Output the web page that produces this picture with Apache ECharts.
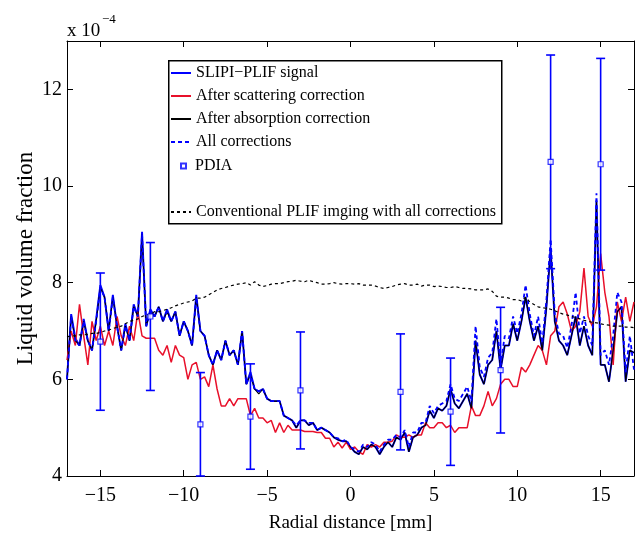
<!DOCTYPE html>
<html>
<head>
<meta charset="utf-8">
<script src="https://cdn.jsdelivr.net/npm/echarts@6/dist/echarts.min.js"></script>
<style>
  html, body { margin: 0; padding: 0; background: #fff; }
  #chart { width: 638px; height: 535px; }
</style>
</head>
<body>
<div id="chart"></div>
<script>
// radial positions [mm], shared by all profile lines
var radial = [
  -17, -16.75, -16.5, -16.25, -16, -15.75, -15.5, -15.25, -15, -14.75, -14.5, -14.25, -14, -13.75, -13.5, -13.25,
  -13, -12.75, -12.5, -12.25, -12, -11.75, -11.5, -11.25, -11, -10.75, -10.5, -10.25, -10, -9.75, -9.5, -9.25,
  -9, -8.75, -8.5, -8.25, -8, -7.75, -7.5, -7.25, -7, -6.75, -6.5, -6.25, -6, -5.75, -5.5, -5.25,
  -5, -4.75, -4.5, -4.25, -4, -3.75, -3.5, -3.25, -3, -2.75, -2.5, -2.25, -2, -1.75, -1.5, -1.25,
  -1, -0.75, -0.5, -0.25, 0, 0.25, 0.5, 0.75, 1, 1.25, 1.5, 1.75, 2, 2.25, 2.5, 2.75,
  3, 3.25, 3.5, 3.75, 4, 4.25, 4.5, 4.75, 5, 5.25, 5.5, 5.75, 6, 6.25, 6.5, 6.75,
  7, 7.25, 7.5, 7.75, 8, 8.25, 8.5, 8.75, 9, 9.25, 9.5, 9.75, 10, 10.25, 10.5, 10.75,
  11, 11.25, 11.5, 11.75, 12, 12.25, 12.5, 12.75, 13, 13.25, 13.5, 13.75, 14, 14.25, 14.5, 14.75,
  15, 15.25, 15.5, 15.75, 16, 16.25, 16.5, 16.75, 17
];

// liquid volume fraction, x 10^-4
var slipiSignal = [
  6.0, 7.35, 6.85, 6.7, 7.25, 6.8, 6.6, 7.25, 7.95, 7.7, 7.0, 7.75, 7.1, 6.6, 7.15, 6.8,
  7.55, 7.3, 9.05, 7.1, 7.45, 7.3, 7.5, 7.2, 7.45, 7.2, 7.4, 6.9, 7.2, 7.0, 6.7, 7.75,
  7.0, 6.9, 6.5, 6.3, 6.6, 6.4, 6.8, 6.5, 6.6, 6.3, 7.0, 5.9, 6.15, 5.8, 5.75, 5.8,
  5.6, 5.55, 5.55, 5.55, 5.25, 5.2, 5.15, 5.0, 5.15, 5.15, 5.05, 5.1, 4.95, 5.0, 4.95, 4.9,
  4.8, 4.75, 4.72, 4.72, 4.6, 4.5, 4.45, 4.6, 4.55, 4.65, 4.6, 4.45, 4.6, 4.7, 4.6, 4.8,
  4.75, 4.9, 4.5, 4.8, 4.85, 5.0, 5.05, 5.35, 5.2, 5.4, 5.35, 5.45, 5.8, 5.5, 5.4, 5.55,
  5.7, 5.4, 6.8, 6.1, 5.9, 6.3, 6.4, 7.0, 6.2, 6.7, 6.7, 7.15, 6.8, 7.2, 7.7, 7.2,
  6.8, 7.1, 6.6, 7.5, 8.7, 7.2, 6.8, 6.7, 6.5, 6.9, 7.3, 6.7, 7.1, 6.7, 6.5, 9.7,
  6.3, 6.3, 5.95, 6.6, 7.4, 7.5, 5.95, 6.6, 6.55
];
var scatterCorr = [
  6.4, 7.0, 6.7, 7.55, 6.9, 6.3, 7.2, 6.8, 7.1, 6.7, 7.0, 6.7, 7.3, 6.9, 6.7, 7.1,
  6.8, 7.4, 6.9, 6.85, 6.85, 6.85, 6.6, 6.5, 6.7, 6.35, 6.7, 6.5, 6.45, 6.0, 6.3, 6.35,
  6.0, 6.05, 5.85, 6.3, 5.8, 5.45, 5.45, 5.6, 5.45, 5.6, 5.6, 5.6, 5.25, 5.4, 5.2, 5.2,
  5.1, 5.15, 4.9, 5.1, 4.9, 5.05, 4.95, 4.95, 4.95, 4.92, 4.92, 4.92, 4.9, 4.9, 4.78, 4.78,
  4.6, 4.7, 4.58, 4.7, 4.55, 4.6, 4.5, 4.45, 4.65, 4.6, 4.65, 4.6, 4.7, 4.7, 4.72, 4.85,
  4.8, 4.8, 4.85, 4.8, 4.85, 4.85, 5.1, 5.0, 5.0, 5.1, 5.1, 5.0, 5.05, 4.9, 5.0, 5.0,
  5.0, 5.45, 5.25, 5.25, 5.45, 5.75, 5.45, 5.6, 5.9, 6.0, 6.0, 5.85, 5.85, 6.25, 6.15, 6.3,
  6.5, 6.7, 6.6, 6.3, 6.9, 7.0, 7.5, 7.6, 7.35, 7.0, 7.1, 7.4, 8.3, 7.3, 7.1, 7.5,
  8.6, 7.8, 7.3, 6.3, 7.6, 7.2, 7.7, 7.2, 7.6
];
var absorpCorr = [
  6.0, 7.3, 6.8, 6.7, 7.2, 6.8, 6.6, 7.2, 7.9, 7.7, 7.0, 7.7, 7.1, 6.6, 7.1, 6.8,
  7.5, 7.3, 9.0, 7.1, 7.4, 7.3, 7.5, 7.2, 7.4, 7.2, 7.4, 6.9, 7.2, 7.0, 6.7, 7.7,
  7.0, 6.9, 6.5, 6.3, 6.6, 6.4, 6.8, 6.5, 6.6, 6.3, 7.0, 5.9, 6.1, 5.8, 5.7, 5.8,
  5.6, 5.55, 5.55, 5.55, 5.25, 5.2, 5.15, 5.0, 5.15, 5.15, 5.05, 5.1, 4.95, 5.0, 4.95, 4.9,
  4.8, 4.75, 4.72, 4.72, 4.6, 4.5, 4.45, 4.6, 4.55, 4.65, 4.6, 4.45, 4.6, 4.7, 4.6, 4.8,
  4.75, 4.9, 4.5, 4.8, 4.85, 5.0, 5.05, 5.35, 5.2, 5.4, 5.35, 5.45, 5.8, 5.5, 5.4, 5.55,
  5.7, 5.4, 6.8, 6.1, 5.9, 6.3, 6.4, 7.0, 6.2, 6.7, 6.7, 7.15, 6.8, 7.2, 7.7, 7.2,
  6.8, 7.1, 6.6, 7.5, 8.7, 7.2, 6.8, 6.7, 6.5, 6.9, 7.3, 6.7, 7.1, 6.7, 6.5, 9.7,
  6.3, 6.3, 5.95, 6.6, 7.4, 7.5, 5.95, 6.6, 6.55
];
var allCorr = [
  6.0, 7.3, 6.8, 6.7, 7.2, 6.8, 6.6, 7.2, 7.9, 7.7, 7.0, 7.7, 7.1, 6.6, 7.1, 6.8,
  7.5, 7.3, 9.0, 7.1, 7.4, 7.3, 7.5, 7.2, 7.4, 7.2, 7.4, 6.9, 7.2, 7.0, 6.7, 7.7,
  7.0, 6.9, 6.5, 6.3, 6.6, 6.4, 6.8, 6.5, 6.6, 6.3, 7.0, 5.9, 6.1, 5.8, 5.75, 5.8,
  5.6, 5.55, 5.55, 5.55, 5.25, 5.2, 5.15, 5.05, 5.15, 5.15, 5.1, 5.1, 4.95, 5.0, 4.95, 4.9,
  4.8, 4.78, 4.72, 4.75, 4.6, 4.55, 4.5, 4.65, 4.6, 4.7, 4.65, 4.5, 4.65, 4.75, 4.75, 4.85,
  4.8, 4.95, 4.6, 4.9, 4.9, 5.1, 5.1, 5.45, 5.3, 5.45, 5.5, 5.55, 5.9, 5.6, 5.55, 5.7,
  5.85, 5.55, 7.1, 6.25, 6.05, 6.45, 6.55, 7.25, 6.3, 6.9, 6.85, 7.3, 6.95, 7.35, 7.95, 7.35,
  6.9, 7.3, 6.75, 7.65, 8.9, 7.35, 6.95, 6.9, 6.65, 7.1, 7.8, 6.95, 7.3, 6.9, 6.7, 9.85,
  6.5, 6.6, 6.3, 6.9, 7.8, 7.6, 6.15, 6.9, 6.2
];
var conventional = [
  6.88, 6.9, 6.9, 6.92, 6.92, 6.93, 6.95, 6.95, 6.97, 7.0, 7.02, 7.05, 7.08, 7.1, 7.15, 7.2,
  7.22, 7.25, 7.3, 7.33, 7.35, 7.4, 7.4, 7.42, 7.45, 7.48, 7.52, 7.55, 7.58, 7.6, 7.62, 7.68,
  7.68, 7.7, 7.75, 7.8, 7.85, 7.88, 7.9, 7.93, 7.95, 7.97, 7.98, 8.0, 7.95, 8.02, 7.95, 7.92,
  7.94, 7.97, 7.98, 7.98, 8.0, 8.02, 8.03, 8.05, 8.03, 8.02, 8.05, 8.02, 8.0, 7.97, 7.97, 7.98,
  8.0, 7.98, 7.97, 7.98, 7.98, 7.97, 7.98, 7.95, 7.95, 7.95, 7.93, 7.9, 7.88, 7.9, 7.92, 7.95,
  7.97, 7.98, 7.95, 7.95, 7.97, 7.93, 7.95, 7.95, 7.92, 7.93, 7.92, 7.9, 7.9, 7.92, 7.9, 7.88,
  7.88, 7.87, 7.85, 7.85, 7.85, 7.87, 7.82, 7.72, 7.7, 7.7, 7.68, 7.65, 7.65, 7.62, 7.7, 7.6,
  7.55, 7.5, 7.48, 7.47, 7.45, 7.42, 7.38, 7.35, 7.33, 7.3, 7.28, 7.25, 7.22, 7.2, 7.18, 7.17,
  7.15, 7.13, 7.12, 7.1, 7.1, 7.1, 7.08, 7.08, 7.07
];

// PDIA measurements with error bars
var pdiaX = [-15, -12, -9, -6, -3, 3, 6, 9, 12, 15];
var pdiaMean = [6.78, 7.30, 5.07, 5.23, 5.77, 5.74, 5.33, 6.19, 10.50, 10.45];
var pdiaErr = [1.42, 1.53, 1.07, 1.09, 1.21, 1.20, 1.11, 1.30, 2.21, 2.19];

var xTicks = [-15, -10, -5, 0, 5, 10, 15];
var yTicks = [4, 6, 8, 10, 12];

var FONT = 'Liberation Serif';
var BLUE = '#0000ff';
var RED = '#e8102a';

function pairs(ys) {
  var out = [];
  for (var i = 0; i < radial.length; i++) out.push([radial[i], ys[i]]);
  return out;
}
function minusSign(v) {
  return String(v).replace('-', '\u2212');
}

var pdiaPoints = [], pdiaBars = [];
for (var i = 0; i < pdiaX.length; i++) {
  pdiaPoints.push([pdiaX[i], pdiaMean[i]]);
  pdiaBars.push([pdiaX[i], pdiaMean[i] - pdiaErr[i], pdiaMean[i] + pdiaErr[i]]);
}

var myChart = echarts.init(document.getElementById('chart'), null, { renderer: 'canvas' });

var tickCommon = { inside: true, length: 6, lineStyle: { color: '#000', width: 1 } };
var legendText = { fontFamily: FONT, fontSize: 16, color: '#000', lineHeight: 14 };

var option = {
  backgroundColor: '#fff',
  animation: false,
  textStyle: { fontFamily: FONT },
  grid: { left: 67, right: 4, top: 41, bottom: 59, outerBoundsMode: 'none', containLabel: false },
  xAxis: [{
    type: 'value', min: -17, max: 17, position: 'bottom',
    name: 'Radial distance [mm]', nameLocation: 'middle', nameGap: 38,
    nameTextStyle: { fontFamily: FONT, fontSize: 19, color: '#000' },
    axisLine: { show: true, onZero: false, lineStyle: { color: '#000', width: 1 } },
    axisTick: Object.assign({ customValues: xTicks }, tickCommon),
    axisLabel: { customValues: xTicks, fontFamily: FONT, fontSize: 20, color: '#000', margin: 10, formatter: minusSign },
    splitLine: { show: false }
  }, {
    type: 'value', min: -17, max: 17, position: 'top',
    axisLine: { show: true, onZero: false, lineStyle: { color: '#000', width: 1 } },
    axisTick: Object.assign({ customValues: xTicks }, tickCommon),
    axisLabel: { show: false },
    splitLine: { show: false }
  }],
  yAxis: [{
    type: 'value', min: 4, max: 13, position: 'left',
    name: 'Liquid volume fraction', nameLocation: 'middle', nameGap: 30, nameMoveOverlap: false,
    nameTextStyle: { fontFamily: FONT, fontSize: 23, color: '#000' },
    axisLine: { show: true, onZero: false, lineStyle: { color: '#000', width: 1 } },
    axisTick: Object.assign({ customValues: yTicks }, tickCommon),
    axisLabel: { customValues: yTicks, fontFamily: FONT, fontSize: 20, color: '#000', margin: 5 },
    splitLine: { show: false }
  }, {
    type: 'value', min: 4, max: 13, position: 'right',
    axisLine: { show: true, onZero: false, lineStyle: { color: '#000', width: 1 } },
    axisTick: Object.assign({ customValues: yTicks }, tickCommon),
    axisLabel: { show: false },
    splitLine: { show: false }
  }],
  legend: [{
    left: 170, top: 65, orient: 'vertical', padding: 0, itemWidth: 20, itemHeight: 14, itemGap: 7,
    itemStyle: { opacity: 0 },
    textStyle: legendText,
    data: ['SLIPI\u2212PLIF signal', 'After scattering correction', 'After absorption correction', 'All corrections']
  }, {
    left: 180, top: 158, orient: 'vertical', padding: 0, itemWidth: 5, itemHeight: 5,
    textStyle: Object.assign({ padding: [0, 0, 0, 4] }, legendText),
    data: ['PDIA']
  }, {
    left: 170, top: 204, orient: 'vertical', padding: 0, itemWidth: 20, itemHeight: 14,
    itemStyle: { opacity: 0 },
    textStyle: legendText,
    data: ['Conventional PLIF imging with all corrections']
  }],
  graphic: [{
    type: 'rect', left: 168, top: 60, z: 50, silent: true,
    shape: { width: 333, height: 163 },
    style: { fill: 'rgba(255,255,255,0)', stroke: '#000', lineWidth: 1.5 }
  }, {
    type: 'text', left: 67, top: 22,
    style: { text: 'x 10', font: '19px "Liberation Serif"', fill: '#000' }
  }, {
    type: 'text', left: 102, top: 13,
    style: { text: '\u22124', font: '13px "Liberation Serif"', fill: '#000' }
  }],
  series: [{
    name: 'SLIPI\u2212PLIF signal', type: 'line', symbol: 'none', data: pairs(slipiSignal),
    lineStyle: { color: BLUE, width: 1.9 }, itemStyle: { color: BLUE }, z: 2
  }, {
    name: 'After scattering correction', type: 'line', symbol: 'none', data: pairs(scatterCorr),
    lineStyle: { color: RED, width: 1.5 }, itemStyle: { color: RED }, z: 3
  }, {
    name: 'After absorption correction', type: 'line', symbol: 'none', data: pairs(absorpCorr),
    lineStyle: { color: '#000', width: 1.1 }, itemStyle: { color: '#000' }, z: 4
  }, {
    name: 'All corrections', type: 'line', symbol: 'none', data: pairs(allCorr),
    lineStyle: { color: BLUE, width: 1.8, type: [4, 3] }, itemStyle: { color: BLUE }, z: 5
  }, {
    name: 'PDIA', type: 'scatter', symbol: 'rect', symbolSize: 5, data: pdiaPoints,
    itemStyle: { color: '#fff', borderColor: BLUE, borderWidth: 1.2 }, z: 8
  }, {
    name: 'PDIA error', type: 'custom', data: pdiaBars, z: 7,
    renderItem: function (params, api) {
      var lo = api.coord([api.value(0), api.value(1)]);
      var hi = api.coord([api.value(0), api.value(2)]);
      var w = 4.5;
      var st = { stroke: BLUE, lineWidth: 1.6 };
      return {
        type: 'group',
        children: [
          { type: 'line', shape: { x1: lo[0], y1: lo[1], x2: hi[0], y2: hi[1] }, style: st },
          { type: 'line', shape: { x1: lo[0] - w, y1: lo[1], x2: lo[0] + w, y2: lo[1] }, style: st },
          { type: 'line', shape: { x1: hi[0] - w, y1: hi[1], x2: hi[0] + w, y2: hi[1] }, style: st }
        ]
      };
    }
  }, {
    name: 'Conventional PLIF imging with all corrections', type: 'line', symbol: 'none', data: pairs(conventional),
    lineStyle: { color: '#000', width: 1.2, type: [3, 3] }, itemStyle: { color: '#000' }, z: 6
  }]
};

myChart.setOption(option);
</script>
</body>
</html>
